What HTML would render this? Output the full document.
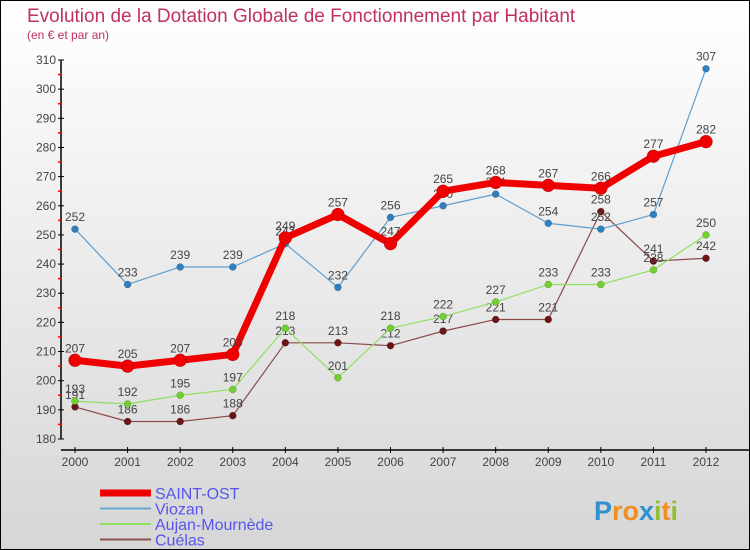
<!DOCTYPE html>
<html><head><meta charset="utf-8"><style>
body{margin:0}
#wrap{width:750px;height:550px;position:relative;box-sizing:border-box;border:1px solid #000;background:linear-gradient(#ffffff,#d6d6d6);font-family:"Liberation Sans",sans-serif;overflow:hidden}
</style></head><body>
<div id="wrap">
<svg id="c" width="750" height="550" style="position:absolute;left:-1px;top:-1px"></svg>
</div>
<script>
const years=["2000","2001","2002","2003","2004","2005","2006","2007","2008","2009","2010","2011","2012"];
const saintOst=[207,205,207,209,249,257,247,265,268,267,266,277,282];
const viozan=[252,233,239,239,247,232,256,260,264,254,252,257,307];
const aujan=[193,192,195,197,218,201,218,222,227,233,233,238,250];
const cuelas=[191,186,186,188,213,213,212,217,221,221,258,241,242];
const yTicks=[180,190,200,210,220,230,240,250,260,270,280,290,300,310];
const NS="http://www.w3.org/2000/svg";
const svg=document.getElementById('c');
function X(i){return 75+i*(706-75)/12;}
function Y(v){return 439-(v-180)*(439-60)/130;}
function mk(t,a,p){const e=document.createElementNS(NS,t);for(const k in a)e.setAttribute(k,a[k]);(p||svg).appendChild(e);return e;}
function txt(x,y,s,size,fill,anchor){const e=mk('text',{x:x,y:y,'font-size':size,fill:fill,'text-anchor':anchor||'middle'});e.textContent=s;return e;}
let t=txt(27,22,"Evolution de la Dotation Globale de Fonctionnement par Habitant",19,"#c03060","start");

t=txt(27,39,"(en € et par an)",12,"#c03060","start");

let ax=mk('g',{});
mk('line',{x1:61,y1:60,x2:61,y2:439,stroke:'#000','stroke-width':1.5},ax);
yTicks.forEach((v,i)=>{mk('line',{x1:58,x2:64,y1:Y(v),y2:Y(v),stroke:'#000'},ax);
 const l=txt(56,Y(v)+4,String(v),12,"#444","end");ax.appendChild(l);
 if(i<yTicks.length-1)mk('line',{x1:58,x2:62,y1:Y(v+5),y2:Y(v+5),stroke:'#f00','stroke-width':1.5},ax);});
let xa=mk('g',{});
mk('line',{x1:61,y1:450,x2:750,y2:450,stroke:'#000','stroke-width':1.5},xa);
years.forEach((y,i)=>{mk('line',{x1:X(i),x2:X(i),y1:447,y2:453,stroke:'#000'},xa);
 const l=txt(X(i),466,y,12,"#444");xa.appendChild(l);});
function series(name,data,color,w,r,dot){
 const g=mk('g',{});
 mk('polyline',{points:data.map((v,i)=>X(i)+','+Y(v)).join(' '),fill:'none',stroke:color,'stroke-width':w,'stroke-linejoin':'round'},g);
 data.forEach((v,i)=>{const c=mk('circle',{cx:X(i),cy:Y(v),r:r,fill:dot,stroke:'rgba(0,0,0,0.3)','stroke-width':0.5},g);
  
  const l=txt(X(i),Y(v)-8,String(v),12,"#444");g.appendChild(l);});
}
series('series-cuelas',cuelas,'#8b4a4a',1.2,3.5,'#6b1515');
series('series-aujan',aujan,'#90e060',1.2,3.5,'#70d030');
series('series-viozan',viozan,'#5f9fcf',1.2,3.5,'#3080c0');
series('series-saint-ost',saintOst,'#f00000',7,6.5,'#f00000');
const lg=[["SAINT-OST","#f00000",7],["Viozan","#6aa6d0",2],["Aujan-Mournède","#90e060",2],["Cuélas","#8b5050",2]];
lg.forEach((e,i)=>{const g=mk('g',{});
 const y=493+i*15.5;mk('line',{x1:100,x2:151,y1:y,y2:y,stroke:e[1],'stroke-width':e[2]},g);
 const l=txt(155,y+6,e[0],16,"#5555ee","start");g.appendChild(l);});
const lo=txt(636,520,"",27,"#f08020");lo.setAttribute('font-weight','bold');
[["P","#3090d0"],["r","#f09020"],["o","#f09020"],["x","#3090d0"],["i","#90c030"],["t","#f09020"],["i","#90c030"]].forEach(p=>{const s=mk('tspan',{fill:p[1]},lo);s.textContent=p[0];});
</script>
</body></html>
